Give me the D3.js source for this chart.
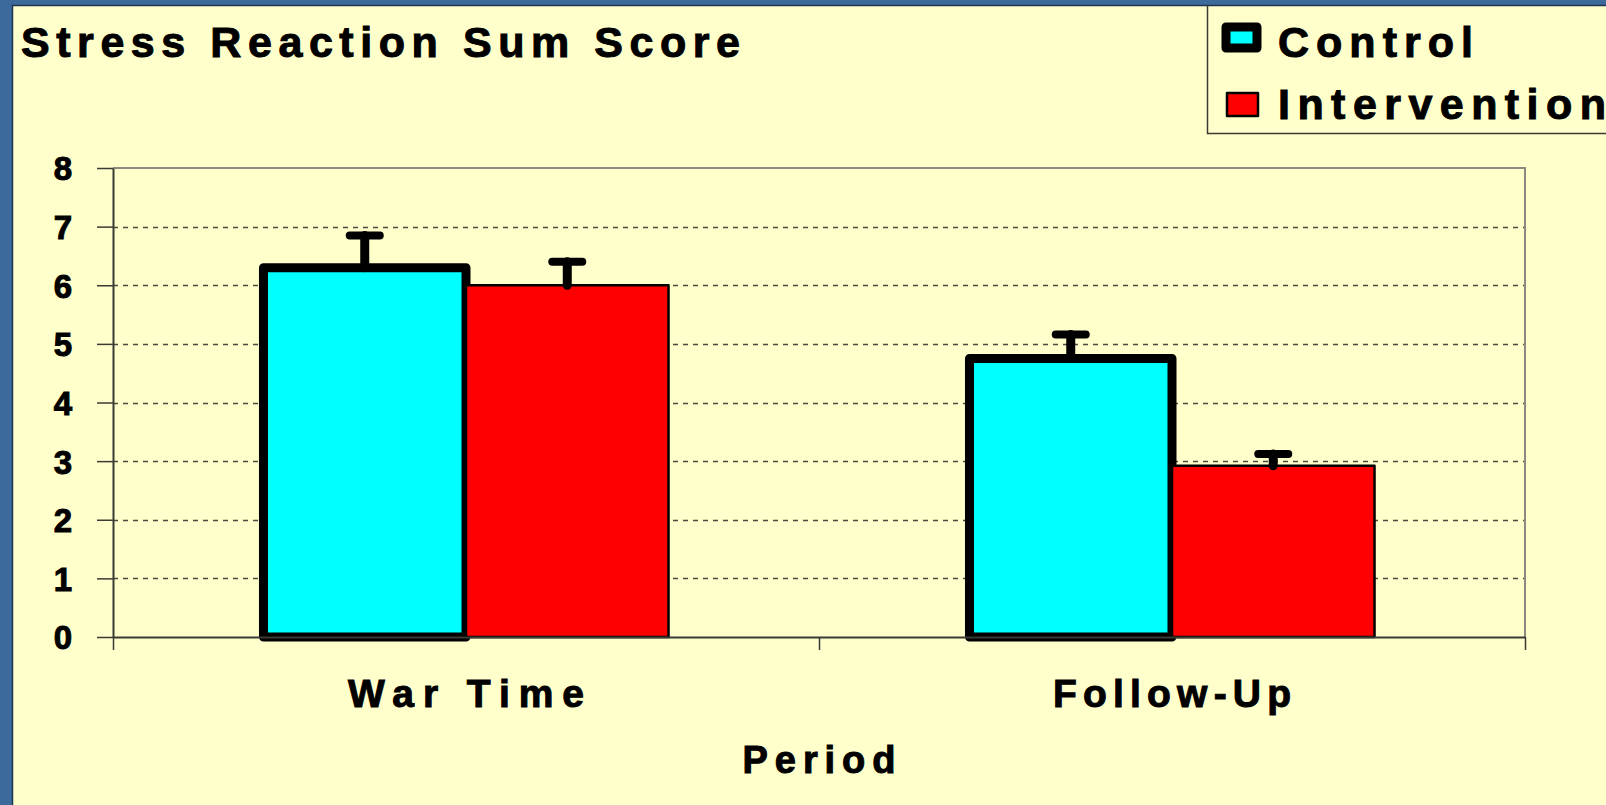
<!DOCTYPE html>
<html>
<head>
<meta charset="utf-8">
<script src="https://cdn.jsdelivr.net/npm/d3@7"></script>
<style>
  html, body { margin: 0; padding: 0; background: #3b6a9b; overflow: hidden; }
  svg { display: block; }
  text { font-family: "Liberation Sans", Arial, sans-serif; font-weight: bold; fill: #000; stroke: #000; stroke-width: 1px; }
</style>
</head>
<body>
<script>
// Chart data
const periods = ["War Time", "Follow-Up"];
const groups = ["Control", "Intervention"];
const controlMeans = [6.3, 4.75];
const interventionMeans = [6.0, 2.92];
const controlErrors = [0.55, 0.41];
const interventionErrors = [0.4, 0.2];
const yTicks = [0, 1, 2, 3, 4, 5, 6, 7, 8];
const titleText = "Stress Reaction Sum Score";
const xTitle = "Period";

const W = 1606, H = 805;
const plot = { left: 113, right: 1525, top: 168, bottom: 637 };
const fontFamily = "'Liberation Sans', Arial, sans-serif";

const svg = d3.select("body").append("svg")
    .attr("width", W)
    .attr("height", H);

// Blue slide background and the yellow panel
svg.append("rect").attr("width", W).attr("height", H).attr("fill", "#3b6a9b");
svg.append("rect")
    .attr("x", 12.5).attr("y", 5.5)
    .attr("width", W).attr("height", H)
    .attr("fill", "#ffffcc")
    .attr("stroke", "#1e3550")
    .attr("stroke-width", 1.5);

// Scales
const x0 = d3.scaleBand()
    .domain(periods)
    .range([plot.left, plot.right])
    .padding(0);

const x1 = d3.scaleBand()
    .domain(groups)
    .range([0, x0.bandwidth()])
    .paddingInner(0)
    .paddingOuter(0.743);

const y = d3.scaleLinear()
    .domain([0, 8])
    .range([plot.bottom, plot.top]);

// Dashed gridlines
svg.append("g")
    .selectAll("line")
    .data(yTicks.filter(d => d > 0 && d < 8))
    .join("line")
    .attr("x1", plot.left).attr("x2", plot.right)
    .attr("y1", d => Math.round(y(d)) + 0.5)
    .attr("y2", d => Math.round(y(d)) + 0.5)
    .attr("stroke", "#4a4a40")
    .attr("stroke-width", 1.5)
    .attr("stroke-dasharray", "5,5");

// Plot frame (top and right, grey)
svg.append("path")
    .attr("d", `M${plot.left},${plot.top} H${plot.right} V${plot.bottom}`)
    .attr("fill", "none")
    .attr("stroke", "#8a8a80")
    .attr("stroke-width", 2);

// Build rows for the bars
const rows = periods.map((p, i) => ({
    period: p,
    values: [
        { group: "Control", value: controlMeans[i], err: controlErrors[i] },
        { group: "Intervention", value: interventionMeans[i], err: interventionErrors[i] }
    ]
}));

const barG = svg.append("g");

// Control bars first (thick outline), then intervention on top
groups.forEach(g => {
    barG.selectAll(null)
        .data(rows)
        .join("rect")
        .datum(r => ({ period: r.period, ...r.values.find(v => v.group === g) }))
        .attr("x", d => x0(d.period) + x1(g))
        .attr("y", d => y(d.value))
        .attr("width", x1.bandwidth())
        .attr("height", d => y(0) - y(d.value))
        .attr("fill", g === "Control" ? "#00ffff" : "#ff0000")
        .attr("stroke", "#000")
        .attr("stroke-width", g === "Control" ? 9 : 2.5)
        .attr("stroke-linejoin", "round");

    // Error bars (upper only)
    const eb = barG.selectAll(null)
        .data(rows)
        .join("g")
        .datum(r => ({ period: r.period, ...r.values.find(v => v.group === g) }));
    eb.append("line")
        .attr("x1", d => x0(d.period) + x1(g) + x1.bandwidth() / 2)
        .attr("x2", d => x0(d.period) + x1(g) + x1.bandwidth() / 2)
        .attr("y1", d => y(d.value))
        .attr("y2", d => y(d.value + d.err))
        .attr("stroke", "#000")
        .attr("stroke-width", 9)
        .attr("stroke-linecap", "round");
    eb.append("line")
        .attr("x1", d => x0(d.period) + x1(g) + x1.bandwidth() / 2 - 15)
        .attr("x2", d => x0(d.period) + x1(g) + x1.bandwidth() / 2 + 15)
        .attr("y1", d => y(d.value + d.err))
        .attr("y2", d => y(d.value + d.err))
        .attr("stroke", "#000")
        .attr("stroke-width", 8)
        .attr("stroke-linecap", "round");
});

// Y axis
const yAxis = svg.append("g")
    .attr("transform", `translate(${plot.left},0)`)
    .call(d3.axisLeft(y).tickValues(yTicks).tickSize(16).tickPadding(25).tickSizeOuter(0));
yAxis.select(".domain").attr("stroke", "#3a3a34").attr("stroke-width", 2);
yAxis.selectAll(".tick line").attr("stroke", "#3a3a34").attr("stroke-width", 1.5);
yAxis.selectAll(".tick text")
    .style("font-size", "33px")
    .style("font-family", fontFamily)
    .style("font-weight", "bold")
    .attr("fill", "#000")
    .attr("dy", "0.36em");

// X axis: baseline, boundary ticks and category labels
const xAxis = svg.append("g")
    .attr("transform", `translate(0,${plot.bottom})`)
    .call(d3.axisBottom(x0).tickSize(0).tickPadding(42).tickSizeOuter(0));
xAxis.select(".domain").attr("stroke", "#3a3a34").attr("stroke-width", 2);
const xLabelWidths = { "War Time": 236, "Follow-Up": 238 };
xAxis.selectAll(".tick text")
    .style("font-size", "39px")
    .style("font-family", fontFamily)
    .style("font-weight", "bold")
    .attr("fill", "#000")
    .attr("textLength", d => xLabelWidths[d])
    .attr("lengthAdjust", "spacing");

const boundaries = periods.map(p => x0(p)).concat([x0.range()[1]]);
svg.append("g")
    .selectAll("line")
    .data(boundaries)
    .join("line")
    .attr("x1", d => Math.round(d) + 0.5).attr("x2", d => Math.round(d) + 0.5)
    .attr("y1", plot.bottom).attr("y2", plot.bottom + 13)
    .attr("stroke", "#3a3a34")
    .attr("stroke-width", 1.5);

// Axis title
svg.append("text")
    .attr("x", (plot.left + plot.right) / 2)
    .attr("y", 773)
    .attr("text-anchor", "middle")
    .style("font-size", "38px")
    .attr("textLength", 153)
    .attr("lengthAdjust", "spacing")
    .text(xTitle);

// Chart title
svg.append("text")
    .attr("x", 21)
    .attr("y", 57)
    .style("font-size", "43px")
    .attr("textLength", 719)
    .attr("lengthAdjust", "spacing")
    .text(titleText);

// Legend
const legend = svg.append("g");
legend.append("path")
    .attr("d", `M${W + 5},133.5 H1207.5 V5`)
    .attr("fill", "none")
    .attr("stroke", "#3a3a34")
    .attr("stroke-width", 1.5);

const legendItems = [
    { label: groups[0], fill: "#00ffff", sw: 9, x: 1226, y: 27, w: 31, h: 21, baseline: 57, len: 195 },
    { label: groups[1], fill: "#ff0000", sw: 2.5, x: 1227, y: 93, w: 31, h: 23, baseline: 119, len: 328 }
];
legendItems.forEach(it => {
    legend.append("rect")
        .attr("x", it.x).attr("y", it.y)
        .attr("width", it.w).attr("height", it.h)
        .attr("fill", it.fill)
        .attr("stroke", "#000")
        .attr("stroke-width", it.sw)
        .attr("stroke-linejoin", "round");
    legend.append("text")
        .attr("x", 1278)
        .attr("y", it.baseline)
        .style("font-size", "43px")
        .attr("textLength", it.len)
        .attr("lengthAdjust", "spacing")
        .text(it.label);
});
</script>
</body>
</html>
